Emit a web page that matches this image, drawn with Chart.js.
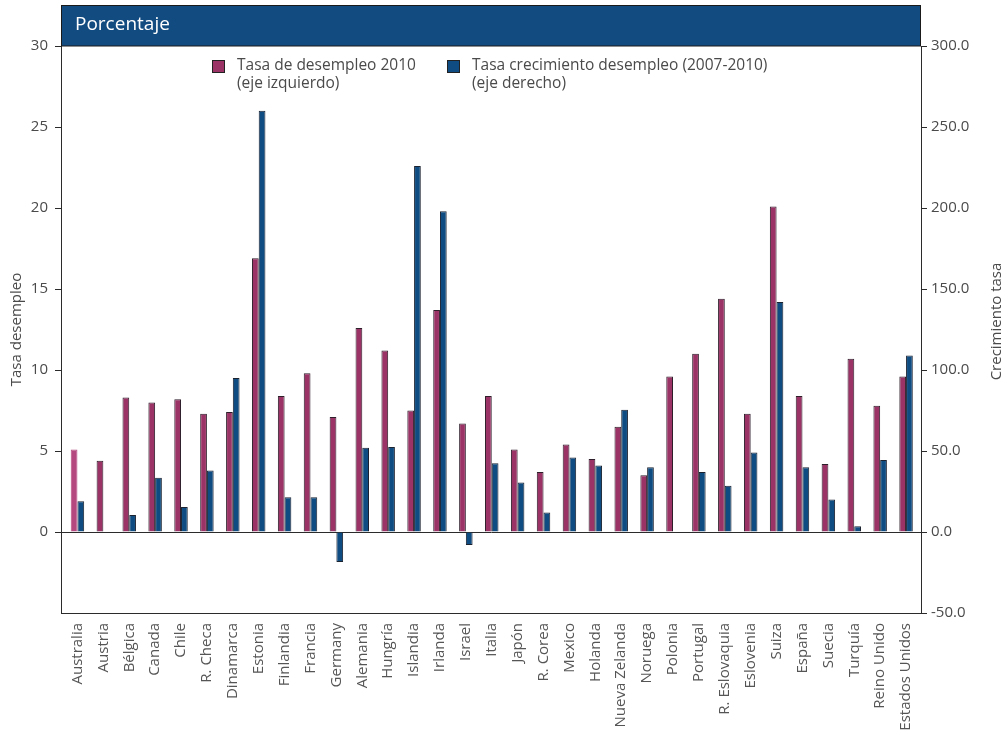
<!DOCTYPE html>
<html>
<head>
<meta charset="utf-8">
<title>Tasa de desempleo</title>
<script src="https://cdn.jsdelivr.net/npm/chart.js@4.4.1/dist/chart.umd.min.js"></script>
<style>
    html, body { margin: 0; padding: 0; background: #ffffff; }
    #wrap { position: relative; width: 1008px; height: 740px; }
</style>
</head>
<body>
<div id="wrap"><canvas id="desempleoChart"></canvas></div>
<script>
// Data
const countries = ['Australia', 'Austria', 'Bélgica', 'Canada', 'Chile', 'R. Checa', 'Dinamarca', 'Estonia',
    'Finlandia', 'Francia', 'Germany', 'Alemania', 'Hungría', 'Islandia', 'Irlanda', 'Israel', 'Italia',
    'Japón', 'R. Corea', 'Mexico', 'Holanda', 'Nueva Zelanda', 'Noruega', 'Polonia', 'Portugal',
    'R. Eslovaquia', 'Eslovenia', 'Suiza', 'España', 'Suecia', 'Turquía', 'Reino Unido', 'Estados Unidos'];

// left axis, %
const unemployment2010 = [5.1, 4.4, 8.3, 8.0, 8.2, 7.3, 7.4, 16.9, 8.4, 9.8, 7.1, 12.6, 11.2, 7.5, 13.7, 6.7,
    8.4, 5.1, 3.7, 5.4, 4.5, 6.5, 3.5, 9.6, 11.0, 14.4, 7.3, 20.1, 8.4, 4.2, 10.7, 7.8, 9.6];

// right axis, % growth 2007-2010
const growth0710 = [19, null, 10.5, 33.5, 15.5, 38, 95, 260, 21.5, 21.5, -18.5, 52, 52.5, 226, 198, -8,
    42.5, 30.5, 12, 46, 41, 75.5, 40, null, 37, 28.5, 49, 142, 40, 20, 3.5, 44.5, 109];

const leftTicks = { min: -5, max: 30, step: 5 };
const rightTicks = { min: -50, max: 300, step: 50 };

const legendUnemp = ['Tasa de desempleo 2010', '(eje izquierdo)'];
const legendGrowth = ['Tasa crecimiento desempleo (2007-2010)', '(eje derecho)'];
const headerTitle = 'Porcentaje';
const rightTitle = 'Crecimiento tasa';

const MAGENTA = '#9b3366';
const MAGENTA_LIGHT = '#b5497f';
const BLUE = '#0f4c81';
const TEXT = '#4a4a4a';
const AXIS = '#2b2b2b';

Chart.defaults.font.family = "'Open Sans', 'Noto Sans', sans-serif";
Chart.defaults.color = TEXT;

// Header band, two-line legend, right title reading upward
const decorPlugin = {
    id: 'decor',
    afterLayout(chart) {
        // categories start a little right of the left axis line
        const x = chart.scales.x;
        x.left = chart.chartArea.left + 3.5;
        x.right = chart.chartArea.right - 2;
        x.width = x.right - x.left;
        x._labelItemsCache = null;
        x._gridLineItems = null;
        x.configure();
    },
    afterDraw(chart) {
        const ctx = chart.ctx;
        const area = chart.chartArea;
        ctx.save();

        // bottom frame
        ctx.strokeStyle = AXIS;
        ctx.lineWidth = 1;
        ctx.beginPath();
        ctx.moveTo(area.left, Math.round(area.bottom) + 0.5);
        ctx.lineTo(area.right, Math.round(area.bottom) + 0.5);
        ctx.stroke();

        // header
        ctx.fillStyle = '#124b80';
        ctx.fillRect(area.left, 5, area.right - area.left, area.top - 5);
        ctx.strokeStyle = '#1a1a1a';
        ctx.strokeRect(area.left + 0.5, 5.5, area.right - area.left - 1, area.top - 5.5);
        ctx.fillStyle = '#ffffff';
        ctx.font = "19px 'Open Sans', sans-serif";
        ctx.textBaseline = 'middle';
        ctx.textAlign = 'left';
        ctx.fillText(headerTitle, area.left + 14, 25);

        // legend
        const items = [
            { x: 212, color: MAGENTA, lines: legendUnemp },
            { x: 447, color: BLUE, lines: legendGrowth }
        ];
        ctx.font = "15.5px 'Open Sans', sans-serif";
        items.forEach(item => {
            ctx.fillStyle = item.color;
            ctx.fillRect(item.x, 60, 13, 13);
            ctx.strokeStyle = '#222';
            ctx.strokeRect(item.x + 0.5, 60.5, 12, 12);
            ctx.fillStyle = TEXT;
            item.lines.forEach((line, i) => {
                ctx.fillText(line, item.x + 25, 66 + i * 18);
            });
        });

        // right axis title
        ctx.translate(997, (area.top + area.bottom) / 2 - 8);
        ctx.rotate(-Math.PI / 2);
        ctx.textAlign = 'center';
        ctx.font = "15px 'Open Sans', sans-serif";
        ctx.fillText(rightTitle, 0, 0);
        ctx.restore();
    }
};

const ctx = document.getElementById('desempleoChart');

new Chart(ctx, {
    type: 'bar',
    data: {
        labels: countries,
        datasets: [{
            label: legendUnemp.join(' '),
            data: unemployment2010,
            yAxisID: 'y',
            backgroundColor: c => c.dataIndex === 0 ? MAGENTA_LIGHT : MAGENTA,
            borderColor: c => c.dataIndex === 0 ? MAGENTA_LIGHT : '#2e1f2b',
            borderWidth: 1,
            barPercentage: 1.0,
            categoryPercentage: 0.52
        }, {
            label: legendGrowth.join(' '),
            data: growth0710,
            yAxisID: 'y1',
            backgroundColor: BLUE,
            borderColor: '#1b2230',
            borderWidth: 1,
            barPercentage: 1.0,
            categoryPercentage: 0.52
        }]
    },
    options: {
        responsive: true,
        maintainAspectRatio: false,
        animation: false,
        layout: { padding: { top: 46, left: 0, right: 0, bottom: 0 } },
        plugins: {
            legend: { display: false },
            tooltip: { enabled: false }
        },
        scales: {
            x: {
                grid: { display: false, drawTicks: false },
                border: { display: false },
                ticks: {
                    autoSkip: false,
                    maxRotation: 90,
                    minRotation: 90,
                    padding: 10,
                    color: '#555',
                    font: { size: 15 }
                },
                afterFit(scale) { scale.height = 127; }
            },
            y: {
                position: 'left',
                min: leftTicks.min,
                max: leftTicks.max,
                ticks: {
                    stepSize: leftTicks.step,
                    padding: 7,
                    color: TEXT,
                    font: { size: 15 },
                    callback: v => v < 0 ? '' : v
                },
                grid: {
                    drawOnChartArea: true,
                    color: c => c.tick && c.tick.value === 0 ? AXIS : 'rgba(0,0,0,0)',
                    tickColor: c => c.tick && c.tick.value < 0 ? 'rgba(0,0,0,0)' : AXIS,
                    tickLength: 6
                },
                border: { display: true, color: AXIS },
                title: {
                    display: true,
                    text: 'Tasa desempleo',
                    color: TEXT,
                    font: { size: 15 },
                    padding: { top: 8, bottom: 0 }
                },
                afterFit(scale) { scale.width = 61; }
            },
            y1: {
                position: 'right',
                min: rightTicks.min,
                max: rightTicks.max,
                ticks: {
                    stepSize: rightTicks.step,
                    padding: 4,
                    color: TEXT,
                    font: { size: 15 },
                    callback: v => v.toFixed(1)
                },
                grid: {
                    drawOnChartArea: false,
                    tickColor: AXIS,
                    tickLength: 6
                },
                border: { display: true, color: AXIS },
                title: { display: false },
                afterFit(scale) { scale.width = 87; }
            }
        }
    },
    plugins: [decorPlugin]
});
</script>
</body>
</html>
